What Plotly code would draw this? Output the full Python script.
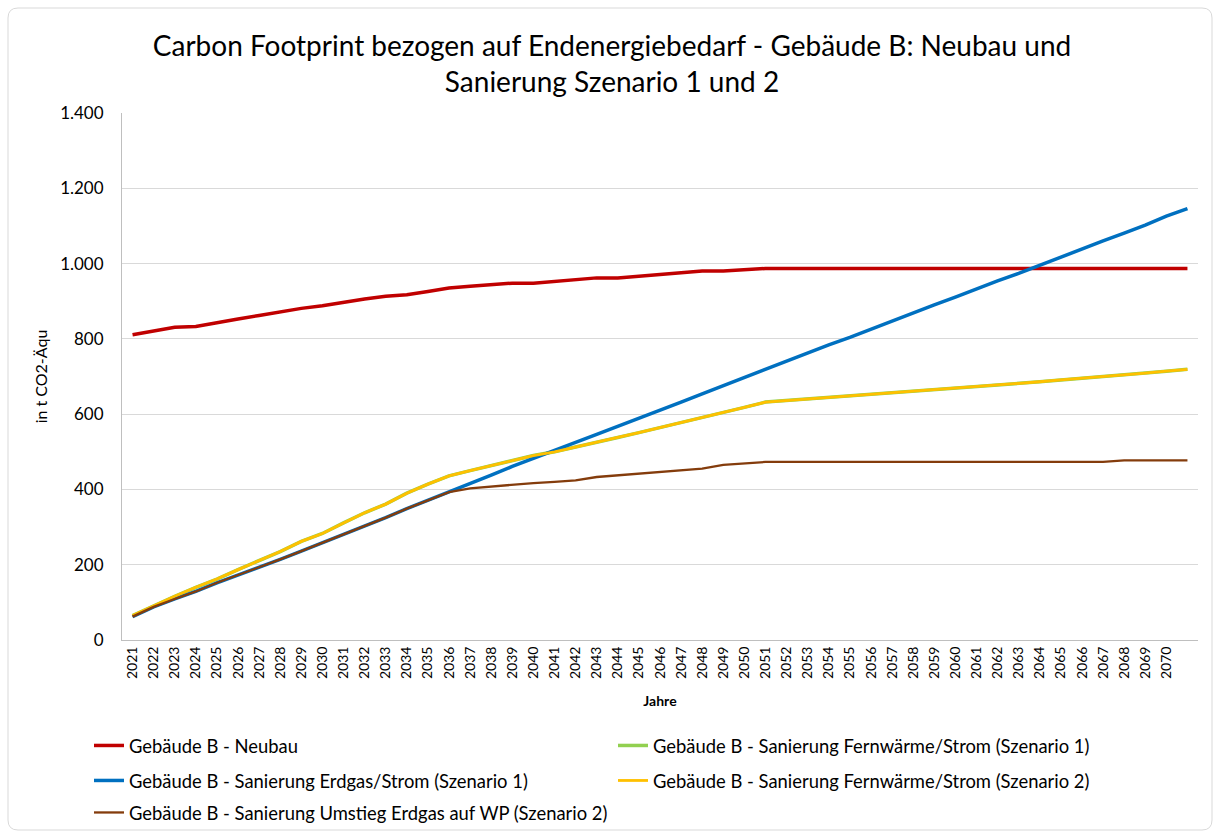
import plotly.graph_objects as go

years = list(range(2021, 2072))
tick_years = list(range(2021, 2071))

neubau = [811, 822, 831, 833, 844, 853, 862, 872, 881, 888,
          898, 906, 913, 917, 926, 935, 940, 944, 948, 948,
          952, 957, 962, 962, 967, 971, 976, 980, 980, 983,
          987, 987, 987, 987, 987, 987, 987, 987, 987, 987,
          987, 987, 987, 987, 987, 987, 987, 987, 987, 987, 987]

fernwaerme_s1 = [65, 91, 116, 140, 162, 187, 210, 235, 262, 283,
                 311, 338, 361, 390, 414, 436, 450, 463, 477, 490,
                 500, 512, 525, 538, 551, 564, 577, 590, 605, 618,
                 632, 636, 640, 644, 648, 652, 656, 661, 665, 669,
                 673, 678, 682, 686, 691, 695, 700, 704, 709, 714, 719]

fernwaerme_s2 = list(fernwaerme_s1)

erdgas_s1 = [62, 88, 109, 129, 152, 172, 194, 214, 236, 258,
             281, 303, 325, 349, 371, 393, 414, 438, 461, 483,
             505, 525, 546, 567, 589, 610, 632, 654, 676, 697,
             720, 741, 762, 784, 804, 826, 847, 869, 890, 911,
             933, 954, 974, 996, 1018, 1038, 1060, 1081, 1102, 1126, 1146]

umstieg_wp_s2 = [62, 88, 109, 129, 152, 172, 194, 214, 236, 258,
                 281, 303, 325, 349, 371, 393, 403, 408, 412, 417,
                 420, 424, 433, 437, 442, 446, 450, 455, 465, 469,
                 473, 473, 473, 473, 473, 473, 473, 473, 473, 473,
                 473, 473, 473, 473, 473, 473, 473, 477, 477, 477, 477]

names = ["Gebäude B - Neubau",
         "Gebäude B - Sanierung Fernwärme/Strom (Szenario 1)",
         "Gebäude B - Sanierung Erdgas/Strom (Szenario 1)",
         "Gebäude B - Sanierung Fernwärme/Strom (Szenario 2)",
         "Gebäude B - Sanierung Umstieg Erdgas auf WP (Szenario 2)"]
series = [neubau, fernwaerme_s1, erdgas_s1, fernwaerme_s2, umstieg_wp_s2]
colors = ["#C00000", "#92D050", "#0070C0", "#FFC000", "#843C0C"]
widths = [3.5, 3.5, 3.5, 2.8, 2.3]
legends = ["legend", "legend2", "legend3", "legend4", "legend5"]

FONT = "Lato, Carlito, Calibri, sans-serif"
W, H = 1219, 836
L, R, T, B = 122, 21, 113, 196
PW, PH = W - L - R, H - T - B

def px2x(px):
    return (px - L) / PW

def px2y(py):
    return (H - B - py) / PH

fig = go.Figure()
for name, vals, col, w, lg in zip(names, series, colors, widths, legends):
    fig.add_trace(go.Scatter(x=years, y=vals, mode="lines", name=name,
                             line=dict(color=col, width=w),
                             legend=lg, showlegend=True))

# legend positions (pixel, top-left)
leg_pos = [(89, 727), (613, 727), (89, 762), (613, 762), (89, 794)]
leg_layout = {}
for lg, (lx, ly) in zip(legends, leg_pos):
    leg_layout[lg] = dict(x=px2x(lx), y=px2y(ly), xanchor="left", yanchor="top",
                          font=dict(family=FONT, size=18.4, color="#000000"),
                          bgcolor="rgba(0,0,0,0)", itemwidth=30)

# rounded border
x0, y0, x1, y1, r = 8, 8, 1212, 830, 10
path = (f"M {px2x(x0 + r)} {px2y(y0)} L {px2x(x1 - r)} {px2y(y0)} "
        f"Q {px2x(x1)} {px2y(y0)} {px2x(x1)} {px2y(y0 + r)} "
        f"L {px2x(x1)} {px2y(y1 - r)} Q {px2x(x1)} {px2y(y1)} {px2x(x1 - r)} {px2y(y1)} "
        f"L {px2x(x0 + r)} {px2y(y1)} Q {px2x(x0)} {px2y(y1)} {px2x(x0)} {px2y(y1 - r)} "
        f"L {px2x(x0)} {px2y(y0 + r)} Q {px2x(x0)} {px2y(y0)} {px2x(x0 + r)} {px2y(y0)} Z")

fig.update_layout(
    width=W, height=H,
    showlegend=True,
    margin=dict(l=L, r=R, t=T, b=B, autoexpand=False),
    paper_bgcolor="white", plot_bgcolor="white",
    separators=",.",
    font=dict(family=FONT, color="#000000"),
    title=dict(text="Carbon Footprint bezogen auf Endenergiebedarf - Gebäude B: Neubau und<br>Sanierung Szenario 1 und 2",
               x=612 / W, xanchor="center", y=1 - 56 / H, yanchor="middle",
               font=dict(family=FONT, size=28, color="#000000")),
    xaxis=dict(range=[2020.5, 2071.5], tickmode="array", tickvals=tick_years,
               ticktext=[str(y) for y in tick_years], tickangle=-90,
               tickfont=dict(family=FONT, size=14, color="#000000"),
               showgrid=False, showline=True, linecolor="#BFBFBF", linewidth=1,
               ticks="", zeroline=False,
               title=dict(text="<b>Jahre</b>", font=dict(family=FONT, size=14, color="#000000"),
                          standoff=18)),
    yaxis=dict(range=[0, 1400], dtick=200, tickformat=",d",
               tickfont=dict(family=FONT, size=17, color="#000000"),
               showgrid=True, gridcolor="#D9D9D9", gridwidth=1,
               showline=True, linecolor="#BFBFBF", linewidth=1,
               zeroline=False, ticks="", ticklen=0, ticklabelstandoff=14,
               title=dict(text="in t CO2-Äqu", font=dict(family=FONT, size=16, color="#000000"),
                          standoff=8)),
    shapes=[dict(type="path", xref="paper", yref="paper", path=path,
                 line=dict(color="#D9D9D9", width=1), layer="below")],
    **leg_layout,
)

fig.write_html("out.html", config={"displayModeBar": False},
               post_script="document.body.style.margin='0';document.body.style.overflow='hidden';")
